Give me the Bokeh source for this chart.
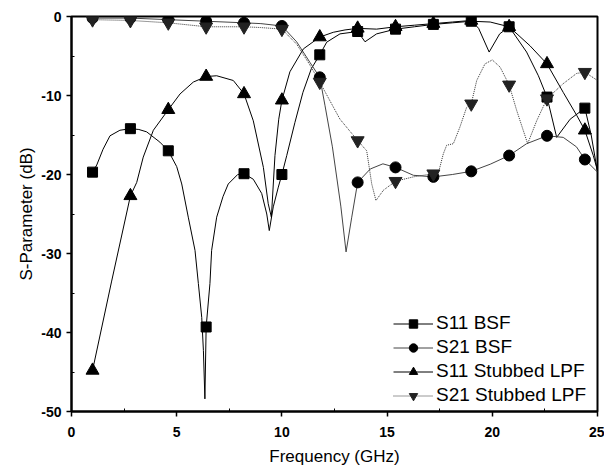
from bokeh.plotting import figure
from bokeh.models import Legend, LegendItem, FixedTicker, Range1d
from bokeh.embed import file_html
from bokeh.resources import INLINE

# ---- data ----
marker_freq = [1.0, 2.8, 4.6, 6.4, 8.2, 10.0, 11.8, 13.6, 15.4, 17.2, 19.0, 20.8, 22.6, 24.4]
s11_bsf_m = [-19.7, -14.2, -17.0, -39.3, -19.9, -20.0, -4.85, -1.9, -1.6, -1.0, -0.6, -1.3, -10.2, -11.6]
s21_bsf_m = [-0.2, -0.2, -0.4, -0.6, -0.8, -1.2, -7.7, -21.0, -19.1, -20.3, -19.6, -17.6, -15.1, -18.1]
s11_lpf_m = [-44.8, -22.7, -11.8, -7.6, -9.8, -10.6, -2.6, -1.5, -1.3, -0.9, -0.5, -1.3, -6.0, -14.4]
s21_lpf_m = [-0.4, -0.5, -0.8, -1.3, -1.3, -1.6, -8.3, -15.7, -20.85, -19.9, -11.05, -8.65, -10.4, -7.05]

s11_bsf_f = [1.0, 1.2, 1.5, 1.83, 2.3, 2.8, 3.2, 3.57, 4.2, 4.6, 5.0, 5.24, 5.55, 5.87, 6.03, 6.19, 6.27, 6.34, 6.40,
             6.58, 6.66, 6.9, 7.2, 7.45, 7.9, 8.2, 8.64, 9.04, 9.28, 9.40, 9.59, 9.83, 10.0, 10.23, 10.62,
             11.0, 11.4, 11.8, 12.13, 12.76, 13.6, 13.95, 14.5, 15.4, 16.3, 17.2, 18.1, 19.0, 19.9,
             20.8, 21.63, 22.19, 22.6, 23.06, 23.7, 24.4, 24.7, 25.0]
s11_bsf_db = [-19.7, -18.8, -16.8, -15.1, -14.4, -14.2, -14.3, -14.6, -15.9, -17.0, -19.0, -21.2, -25.4, -29.6, -33.8, -38.1, -42.3, -48.4, -39.3,
              -33.8, -29.6, -25.4, -22.8, -21.2, -20.0, -19.9, -20.6, -22.4, -25.0, -27.1, -24.1, -21.6, -20.0, -17.6, -13.4,
              -9.6, -6.6, -4.85, -3.25, -2.2, -1.9, -3.2, -2.2, -1.6, -1.3, -1.0, -0.8, -0.6, -0.7,
              -1.3, -4.5, -7.5, -10.2, -15.3, -13.0, -11.6, -15.0, -19.7]

s21_bsf_f = [1.0, 2.8, 4.6, 6.4, 8.2, 9.0, 10.0, 10.7, 11.33, 11.8, 12.05, 12.4, 12.8, 13.05, 13.32, 13.6,
             14.2, 14.8, 15.4, 16.25, 17.2, 18.1, 19.0, 19.9, 20.8, 21.63, 22.6, 23.37, 24.0, 24.4, 25.0]
s21_bsf_db = [-0.2, -0.2, -0.4, -0.6, -0.8, -0.9, -1.2, -3.2, -5.8, -7.7, -11.3, -16.5, -24.0, -29.8, -25.4, -21.0,
              -19.3, -18.65, -19.1, -20.1, -20.3, -20.0, -19.6, -18.7, -17.6, -16.1, -15.1, -15.3, -16.5, -18.1, -19.7]

s11_lpf_f = [1.0, 1.9, 2.8, 3.1, 3.41, 3.89, 4.6, 5.16, 5.79, 6.4, 6.9, 7.69, 8.2, 8.64, 9.12, 9.35, 9.5,
             9.67, 9.85, 10.0, 10.38, 11.02, 11.8, 12.44, 13.0, 13.6, 14.5, 15.4, 16.3, 17.2, 18.1, 19.0,
             19.35, 19.85, 20.35, 20.8, 21.79, 22.6, 23.37, 24.01, 24.4, 24.8, 25.0]
s11_lpf_db = [-44.8, -33.6, -22.7, -21.0, -17.8, -14.4, -11.8, -9.8, -8.3, -7.6, -7.5, -8.1, -9.8, -13.2, -19.1, -23.7, -25.4,
              -17.6, -13.0, -10.6, -7.0, -4.1, -2.6, -2.0, -1.7, -1.5, -1.6, -1.3, -1.1, -0.9, -0.7, -0.5,
              -1.5, -4.5, -2.2, -1.3, -3.7, -6.0, -9.6, -12.5, -14.4, -17.6, -19.5]

s21_lpf_f = [1.0, 2.8, 4.6, 6.4, 8.2, 9.0, 10.0, 10.7, 11.3, 11.8, 12.76, 13.6, 14.03, 14.27, 14.47, 14.82,
             15.4, 16.25, 17.2, 17.43, 17.67, 17.83, 18.15, 18.46, 18.78, 19.0, 19.26, 19.65, 20.0, 20.37,
             20.8, 21.16, 21.68, 22.11, 22.6, 23.37, 24.01, 24.4, 25.0]
s21_lpf_db = [-0.4, -0.5, -0.8, -1.3, -1.3, -1.4, -1.6, -3.5, -6.0, -8.3, -13.0, -15.7, -17.0, -21.2, -23.3, -22.0,
              -20.85, -20.3, -19.9, -19.9, -17.4, -16.3, -16.1, -14.0, -11.5, -11.05, -8.1, -6.0, -5.5, -6.4,
              -8.65, -11.9, -16.1, -13.2, -10.4, -8.5, -7.2, -7.05, -8.1]

x_ticks = [0, 5, 10, 15, 20, 25]
x_minor = [2.5, 7.5, 12.5, 17.5, 22.5]
y_ticks = [-50, -40, -30, -20, -10, 0]
y_minor = [-45, -35, -25, -15, -5]

FONT = "Liberation Sans"

p = figure(width=604, height=468, x_range=Range1d(0, 25), y_range=Range1d(-50, 0),
           output_backend="svg", toolbar_location=None,
           min_border_left=71, min_border_top=16, min_border_right=7, min_border_bottom=57)
p.xgrid.visible = False
p.ygrid.visible = False
p.background_fill_color = "white"
p.border_fill_color = "white"
p.outline_line_color = "black"
p.outline_line_width = 2

p.xaxis.ticker = FixedTicker(ticks=x_ticks, minor_ticks=x_minor)
p.yaxis.ticker = FixedTicker(ticks=y_ticks, minor_ticks=y_minor)
p.yaxis.major_label_overrides = {t: str(t) for t in y_ticks}
p.xaxis.major_label_overrides = {t: str(t) for t in x_ticks}
for ax in (p.xaxis[0], p.yaxis[0]):
    ax.axis_line_color = "black"
    ax.axis_line_width = 2
    ax.major_tick_line_color = "black"
    ax.minor_tick_line_color = "black"
    ax.major_tick_line_width = 1.5
    ax.major_tick_out = 5
    ax.major_tick_in = 0
    ax.minor_tick_in = 3
    ax.minor_tick_out = 0
    ax.major_label_text_font = FONT
    ax.major_label_text_font_style = "bold"
    ax.major_label_text_font_size = "14px"
    ax.major_label_text_color = "black"
    ax.axis_label_text_font = FONT
    ax.axis_label_text_font_style = "normal"
    ax.axis_label_text_font_size = "17px"
    ax.axis_label_text_color = "black"
p.xaxis.axis_label = "Frequency (GHz)"
p.yaxis.axis_label = "S-Parameter (dB)"
p.xaxis.major_label_standoff = 10
p.xaxis.axis_label_standoff = 7
p.yaxis.major_label_standoff = 5
p.yaxis.axis_label_standoff = 2

# lines
l1 = p.line(s11_bsf_f, s11_bsf_db, line_color="black", line_width=1)
l2 = p.line(s21_bsf_f, s21_bsf_db, line_color="#444444", line_width=1)
l3 = p.line(s11_lpf_f, s11_lpf_db, line_color="black", line_width=1)
l4 = p.line(s21_lpf_f, s21_lpf_db, line_color="#333333", line_width=1, line_dash="1 1")

# markers
m1 = p.scatter(marker_freq, s11_bsf_m, marker="square", size=10, color="black")
m2 = p.scatter(marker_freq, s21_bsf_m, marker="circle", size=11, color="black")
m3 = p.scatter(marker_freq, s11_lpf_m, marker="triangle", size=13, color="black")
m4 = p.scatter(marker_freq, s21_lpf_m, marker="inverted_triangle", size=13, color="#222222")

legend = Legend(items=[
    LegendItem(label="S11 BSF", renderers=[l1, m1]),
    LegendItem(label="S21 BSF", renderers=[l2, m2]),
    LegendItem(label="S11 Stubbed LPF", renderers=[l3, m3]),
    LegendItem(label="S21 Stubbed LPF", renderers=[l4, m4]),
], location=(322, 5))
legend.label_text_font = FONT
legend.label_text_font_size = "19px"
legend.label_text_color = "black"
legend.glyph_width = 40
legend.glyph_height = 21
legend.label_height = 21
legend.spacing = 2
legend.padding = 0
legend.margin = 0
legend.label_standoff = 3
legend.background_fill_alpha = 0
legend.border_line_alpha = 0
p.add_layout(legend)

open("out.html", "w").write(file_html(p, INLINE))
